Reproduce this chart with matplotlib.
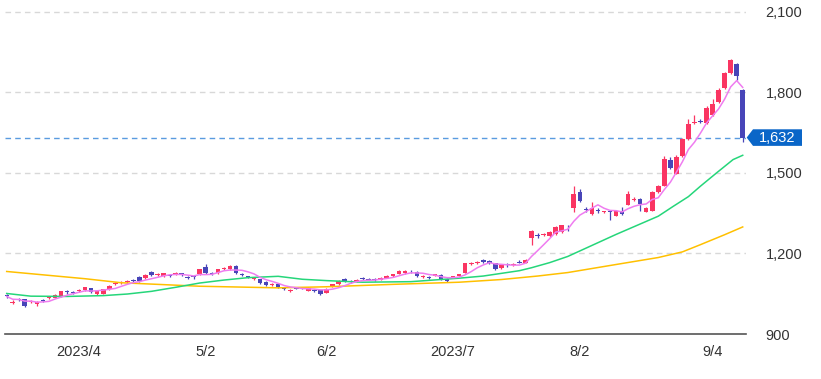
import matplotlib
matplotlib.use("Agg")
import matplotlib.pyplot as plt
import matplotlib.transforms as mtransforms
from matplotlib.patches import Polygon
import numpy as np
import pandas as pd

plt.rcParams['font.family'] = ['Liberation Sans', 'DejaVu Sans']

# ---- data ----
opens = [1045,1016,1031,1029,1021,1010,1027,1034,1036,1041,1059,1056,1061,1063,1070,1050,1050,1067,1086,1092,
         1094,1101,1112,1108,1130,1121,1117,1118,1124,1126,1114,1113,1122,1149,1128,1126,1141,1141,1155,1124,
         1114,1104,1104,1094,1083,1087,1069,1062,1071,1073,1062,1064,1063,1053,1080,1085,1104,1099,1094,1108,
         1106,1106,1103,1110,1117,1125,1126,1136,1130,1113,1112,1118,1119,1104,1110,1118,1128,1162,1164,1175,
         1172,1164,1145,1161,1158,1170,1165,1259,1270,1268,1265,1272,1279,1300,1371,1428,1366,1346,1362,1354,
         1357,1341,1358,1382,1400,1404,1356,1360,1430,1453,1550,1498,1565,1625,1686,1694,1685,1718,1763,1815,
         1871,1908,1809]
closes = [1040,1019,1027,1004,1023,1020,1024,1037,1047,1059,1055,1053,1064,1074,1055,1059,1067,1078,1090,1094,
          1097,1099,1096,1119,1119,1123,1126,1115,1127,1119,1110,1111,1141,1126,1124,1141,1146,1155,1126,1119,
          1112,1108,1090,1083,1087,1076,1067,1064,1069,1071,1072,1061,1050,1068,1085,1098,1098,1094,1102,1104,
          1103,1102,1110,1116,1122,1134,1134,1133,1115,1116,1110,1122,1105,1097,1115,1122,1164,1165,1168,1168,
          1164,1141,1157,1159,1162,1166,1176,1283,1266,1272,1280,1298,1305,1297,1420,1395,1363,1370,1359,1357,
          1354,1358,1346,1420,1402,1384,1371,1430,1452,1554,1520,1558,1625,1681,1689,1691,1744,1759,1811,1871,
          1920,1861,1632]
highs = [1048,1026,1034,1031,1028,1024,1030,1040,1050,1062,1064,1059,1067,1077,1072,1062,1069,1081,1093,1099,
         1100,1106,1115,1122,1134,1128,1129,1121,1130,1128,1117,1118,1143,1160,1131,1143,1149,1158,1157,1126,
         1118,1111,1106,1096,1090,1089,1073,1068,1075,1077,1075,1067,1065,1071,1088,1101,1107,1102,1105,1111,
         1109,1108,1113,1119,1125,1137,1137,1140,1133,1120,1115,1125,1122,1107,1118,1125,1166,1169,1171,1178,
         1175,1166,1160,1165,1166,1175,1180,1288,1276,1275,1283,1301,1308,1306,1451,1440,1375,1392,1368,1360,
         1362,1361,1372,1432,1410,1407,1374,1433,1456,1562,1560,1566,1629,1700,1718,1700,1748,1775,1815,1875,
         1924,1911,1812]
lows = [1036,1010,1024,1002,1016,1006,1021,1031,1034,1039,1050,1049,1058,1060,1052,1047,1048,1064,1083,1088,
        1091,1094,1092,1106,1116,1116,1114,1112,1121,1116,1106,1105,1120,1122,1120,1124,1138,1139,1124,1116,
        1107,1101,1087,1080,1080,1073,1063,1058,1066,1068,1060,1058,1047,1051,1077,1083,1095,1091,1092,1101,
        1100,1099,1101,1107,1114,1123,1124,1129,1112,1109,1104,1115,1102,1094,1107,1115,1126,1158,1161,1165,
        1160,1138,1143,1151,1155,1163,1163,1230,1256,1265,1262,1270,1277,1285,1353,1392,1355,1343,1352,1351,
        1325,1338,1343,1379,1396,1360,1353,1357,1427,1450,1516,1495,1560,1622,1684,1686,1682,1714,1760,1812,
        1868,1848,1614]

# 25-day and 75-day moving averages (values read at candle indices)
ma25_idx = [0, 4, 10, 16, 20, 24, 28, 32, 36, 40, 45, 49, 53, 59, 67, 75, 79, 82, 85, 87, 90, 93,
            101, 108, 110.5, 113, 115, 117.7, 120.4, 122]
ma25_val = [1051, 1041, 1040, 1043, 1049, 1059, 1074, 1090, 1101, 1110, 1115, 1104, 1099, 1093, 1095, 1108,
            1116, 1126, 1136, 1147, 1166, 1189, 1271, 1339, 1376, 1412, 1451, 1501, 1550, 1566]
ma75_idx = [0, 13, 19, 32, 45, 53, 64, 75, 82, 88, 93, 101, 108, 112, 115, 119, 122]
ma75_val = [1133, 1106, 1091, 1078, 1072, 1076, 1085, 1093, 1103, 1116, 1129, 1159, 1185, 1206, 1233, 1270, 1299]

date_idx = [12, 33, 53, 74, 95, 117]
date_labels = ["2023/4", "5/2", "6/2", "2023/7", "8/2", "9/4"]
y_ticks = [900, 1200, 1500, 1800, 2100]
last_price = 1632

# ---- figure ----
W, H = 821, 379
fig = plt.figure(figsize=(W / 100, H / 100), dpi=100)
ax = fig.add_axes([5 / W, 45 / H, 741 / W, 334 / H])

RED = "#fa3562"
BLUE = "#4845b8"

o = np.array(opens, float)
c = np.array(closes, float)
h = np.array(highs, float)
l = np.array(lows, float)
x = np.arange(len(o))
up = c >= o
cols = np.where(up, RED, BLUE)

# grid
for yv in y_ticks[1:]:
    ax.axhline(yv, color="#d8d8d8", lw=1.0, ls=(0, (4, 3)), zorder=0)
ax.axhline(last_price, color="#5a9be0", lw=1.0, ls=(0, (4, 3)), zorder=1)

# wicks + bodies
ax.vlines(x, l, h, colors=cols, lw=0.9, zorder=2)
body_bottom = np.minimum(o, c)
body_h = np.maximum(np.abs(c - o), 3.5)
ax.bar(x, body_h, bottom=body_bottom, width=0.76, color=cols, lw=0, zorder=3)

# moving averages
ma5 = pd.Series(c).rolling(5, min_periods=1).mean()
ax.plot(ma75_idx, ma75_val, color="#ffc000", lw=1.1, zorder=4)
ax.plot(ma25_idx, ma25_val, color="#25d67a", lw=1.1, zorder=4)
ax.plot(x, ma5, color="#ef7cf0", lw=1.1, zorder=5)

ax.set_xlim(-0.28, -0.28 + 741 / 6.033)
ax.set_ylim(900, 900 + 334 * 1200 / 322)

for s in ["top", "left", "right"]:
    ax.spines[s].set_visible(False)
ax.spines["bottom"].set_color("#555555")
ax.spines["bottom"].set_linewidth(1.2)

ax.set_xticks(date_idx)
ax.set_xticklabels(date_labels)
ax.yaxis.tick_right()
ax.set_yticks(y_ticks)
ax.set_yticklabels([f"{v:,}" for v in y_ticks])
ax.tick_params(axis="x", length=0, pad=8, labelsize=10.5, labelcolor="#333333")
ax.tick_params(axis="y", length=0, pad=14, labelsize=10.5, labelcolor="#333333")
ax.set_facecolor("white")

# last price label
tr = mtransforms.blended_transform_factory(fig.transFigure, ax.transData)
hh = 8.3 * 1200 / 322
poly = Polygon([(746.7 / W, last_price), (753 / W, last_price + hh), (802 / W, last_price + hh),
                (802 / W, last_price - hh), (753 / W, last_price - hh)],
               closed=True, transform=tr, facecolor="#0a66c8", edgecolor="none", clip_on=False, zorder=10)
ax.add_patch(poly)
ax.text(777.5 / W, last_price, f"{last_price:,}", transform=tr, ha="center", va="center",
        color="white", fontsize=10.5, zorder=11, clip_on=False)

fig.savefig("out.png", dpi=100, facecolor="white")
